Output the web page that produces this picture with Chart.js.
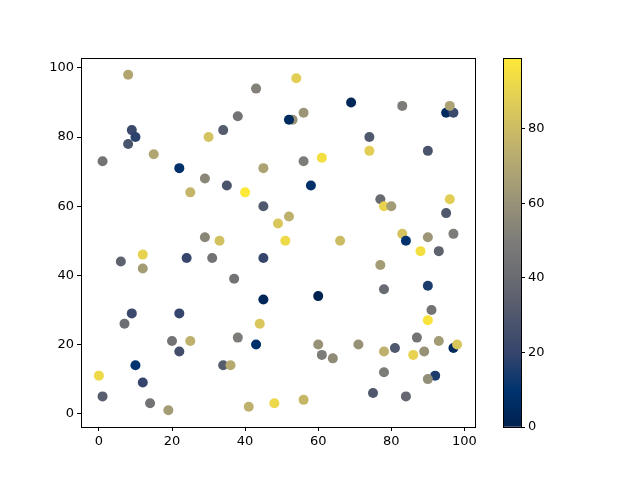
<!DOCTYPE html>
<html>
<head>
<meta charset="utf-8">
<script src="https://cdn.jsdelivr.net/npm/chart.js@4/dist/chart.umd.min.js"></script>
<style>
  body { margin: 0; background: #fff; }
  #wrap { position: relative; width: 640px; height: 480px; }
  canvas { position: absolute; left: 0; top: 0; }
</style>
</head>
<body>
<div id="wrap">
  <canvas id="scatterChart" width="640" height="480"></canvas>
  <canvas id="colorBar" width="640" height="480"></canvas>
</div>
<script>
// data
const xValues = [8, 43, 38, 9, 10, 8, 30, 34, 15, 1, 22, 45, 29, 35, 25, 40, 45,
  53, 52, 54, 56, 69, 83, 95, 97, 96, 74, 74, 90, 56, 61, 58, 77, 78, 80, 96, 95,
  52, 49, 51, 66, 83, 84, 90, 97, 29, 33,
  6, 12, 12, 24, 31, 45, 37, 45, 9, 7, 22, 44, 38, 20, 25, 22, 43, 10, 34, 36, 0, 12, 1, 14, 19, 41, 48,
  88, 93, 77, 78, 90, 60, 91, 90, 60, 71, 61, 64, 78, 81, 87, 93, 86, 89, 97, 98, 78, 92, 90, 75, 84, 56];
const yValues = [98, 94, 86, 82, 80, 78, 80, 82, 75, 73, 71, 71, 68, 66, 64, 64, 60,
  85, 85, 97, 87, 90, 89, 87, 87, 89, 80, 76, 76, 73, 74, 66, 62, 60, 60, 62, 58,
  57, 55, 50, 50, 52, 50, 51, 52, 51, 50,
  44, 46, 42, 45, 45, 45, 39, 33, 29, 26, 29, 26, 22, 21, 21, 18, 20, 14, 14, 14, 11, 9, 5, 3, 1, 2, 3,
  47, 47, 43, 36, 37, 34, 30, 27, 20, 20, 17, 16, 18, 19, 22, 21, 17, 18, 19, 20, 12, 11, 10, 6, 5, 4];
const cValues = [70, 52, 45, 22, 18, 28, 83, 32, 70, 45, 8, 68, 55, 28, 77, 99, 30,
  60, 5, 88, 62, 3, 50, 5, 22, 68, 30, 88, 28, 50, 95, 8, 40, 90, 65, 88, 30,
  75, 85, 93, 80, 83, 10, 62, 50, 55, 82,
  35, 90, 65, 20, 45, 20, 45, 3, 22, 42, 20, 85, 50, 45, 75, 25, 8, 10, 32, 72, 93, 20, 33, 45, 65, 75, 92,
  95, 35, 65, 40, 15, 0, 45, 97, 60, 60, 50, 57, 75, 30, 45, 65, 90, 60, 5, 85, 50, 15, 58, 30, 38, 78];
const xTicks = [0, 20, 40, 60, 80, 100];
const yTicks = [0, 20, 40, 60, 80, 100];
const cbTicks = [0, 20, 40, 60, 80];
const cMin = 0, cMax = 99;

// rough cividis
const cividis = [
  [0.0, [0, 34, 78]],
  [0.1, [0, 51, 111]],
  [0.2, [53, 69, 108]],
  [0.25, [65, 77, 107]],
  [0.375, [99, 102, 112]],
  [0.5, [124, 123, 120]],
  [0.625, [156, 150, 119]],
  [0.75, [188, 175, 111]],
  [0.875, [222, 203, 88]],
  [1.0, [254, 232, 56]]
];

function cmap(t){
  t = Math.max(0, Math.min(1, t));
  for (let i = 1; i < cividis.length; i++) {
    const [t1, c1] = cividis[i];
    const [t0, c0] = cividis[i - 1];
    if (t <= t1) {
      const f = (t - t0) / (t1 - t0);
      const rgb = c0.map((v, k) => Math.round(v + (c1[k] - v) * f));
      return `rgb(${rgb[0]},${rgb[1]},${rgb[2]})`;
    }
  }
  return 'rgb(254,232,56)';
}

const points = xValues.map((x, i) => ({x: x, y: yValues[i]}));
const pointColors = cValues.map(c => cmap((c - cMin) / (cMax - cMin)));

const tickFont = {family: "'DejaVu Sans', sans-serif", size: 13};

const frame = {
  id: 'frame',
  afterDraw(chart){
    const a = chart.chartArea;
    const ctx = chart.ctx;
    ctx.save();
    ctx.strokeStyle = '#000';
    ctx.lineWidth = 1;
    ctx.strokeRect(Math.round(a.left) + 0.5, Math.round(a.top) + 0.5,
      Math.round(a.right - a.left), Math.round(a.bottom - a.top));
    ctx.restore();
  }
};

new Chart("scatterChart", {
  type: "scatter",
  data: {
    datasets: [{
      data: points,
      pointBackgroundColor: pointColors,
      pointBorderColor: pointColors,
      pointBorderWidth: 0,
      pointRadius: 5,
      pointHoverRadius: 5
    }]
  },
  options: {
    responsive: false,
    animation: false,
    devicePixelRatio: 1,
    layout: {padding: {top: 58, right: 165, left: 0, bottom: 0}},
    plugins: {legend: {display: false}, tooltip: {enabled: false}},
    scales: {
      x: {
        type: 'linear',
        min: -4.9, max: 102.9,
        afterBuildTicks: s => { s.ticks = xTicks.map(v => ({value: v})); },
        afterFit: s => { s.height = 53; },
        grid: {drawOnChartArea: false, tickLength: 4, color: '#000'},
        border: {color: '#000'},
        ticks: {color: '#000', font: tickFont, padding: 3}
      },
      y: {
        type: 'linear',
        min: -3.85, max: 102.85,
        afterBuildTicks: s => { s.ticks = yTicks.map(v => ({value: v})); },
        afterFit: s => { s.width = 81; },
        grid: {drawOnChartArea: false, tickLength: 4, color: '#000'},
        border: {color: '#000'},
        ticks: {color: '#000', font: tickFont, padding: 3}
      }
    }
  },
  plugins: [frame]
});

// colour bar: one floating bar filled with the colormap
new Chart("colorBar", {
  type: "bar",
  data: {
    labels: ['c'],
    datasets: [{
      data: [[cMin, cMax]],
      borderWidth: 0,
      barPercentage: 1,
      categoryPercentage: 1,
      backgroundColor: (context) => {
        const area = context.chart.chartArea;
        if (!area) return '#888';
        const g = context.chart.ctx.createLinearGradient(0, area.bottom, 0, area.top);
        cividis.forEach(([t, c]) => g.addColorStop(t, `rgb(${c[0]},${c[1]},${c[2]})`));
        return g;
      }
    }]
  },
  options: {
    responsive: false,
    animation: false,
    devicePixelRatio: 1,
    layout: {padding: {top: 58, left: 503, right: 0, bottom: 53}},
    plugins: {legend: {display: false}, tooltip: {enabled: false}},
    scales: {
      x: {display: false},
      y: {
        position: 'right',
        min: cMin, max: cMax,
        afterBuildTicks: s => { s.ticks = cbTicks.map(v => ({value: v})); },
        afterFit: s => { s.width = 119; },
        grid: {drawOnChartArea: false, tickLength: 4, color: '#000'},
        border: {color: '#000'},
        ticks: {color: '#000', font: tickFont, padding: 3}
      }
    }
  },
  plugins: [frame]
});
</script>
</body>
</html>
